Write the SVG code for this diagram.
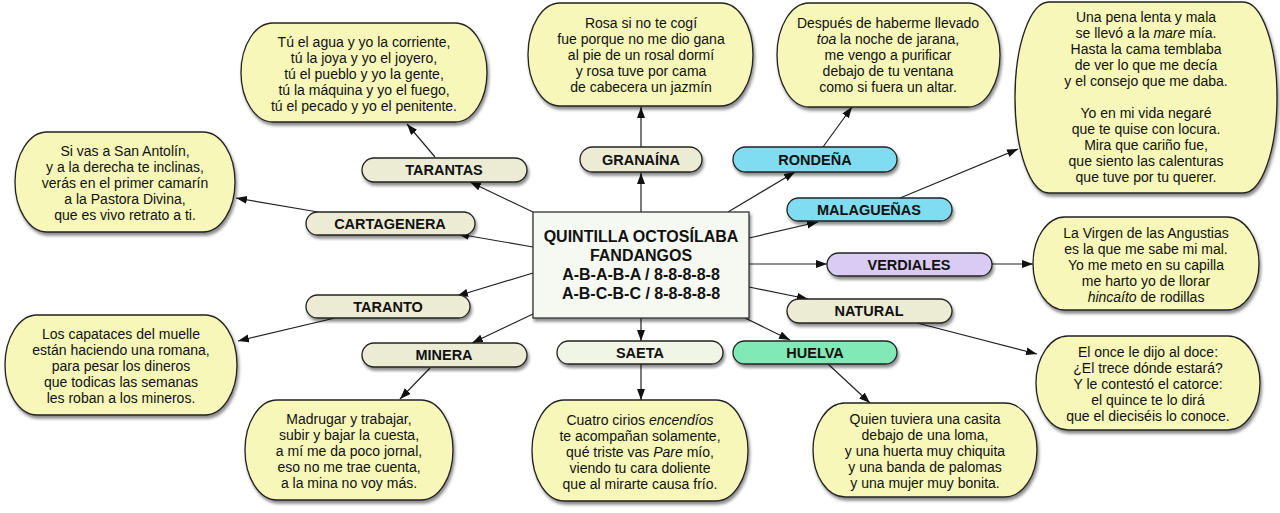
<svg xmlns="http://www.w3.org/2000/svg" width="1280" height="513" viewBox="0 0 1280 513">
<defs>
<filter id="sh" x="-10%" y="-10%" width="125%" height="135%">
<feDropShadow dx="1.5" dy="3" stdDeviation="1.8" flood-color="#000" flood-opacity="0.45"/>
</filter>
<marker id="ar" markerUnits="userSpaceOnUse" markerWidth="12" markerHeight="9" refX="11" refY="4" orient="auto">
<path d="M0,0 L11,4 L0,8 z" fill="#111"/>
</marker>
<style>
.verse{fill:#f7f7b9;stroke:#222;stroke-width:1.3;filter:url(#sh)}
.pill{stroke:#222;stroke-width:1.3;filter:url(#sh)}
.beige{fill:#ececd5}
.cream{fill:#f1f5e5}
.cyan{fill:#7fdcf1}
.lav{fill:#dacbf4}
.green{fill:#80e9b5}
.center{fill:#f5f9f2;stroke:#333;stroke-width:1.3;filter:url(#sh)}
.vt{font-family:"Liberation Sans",Arial,sans-serif;font-size:14px;fill:#111;text-anchor:middle}
.lt{font-family:"Liberation Sans",Arial,sans-serif;font-size:14.5px;font-weight:bold;fill:#111;text-anchor:middle}
.ct{font-family:"Liberation Sans",Arial,sans-serif;font-size:16px;font-weight:bold;fill:#111;text-anchor:middle}
.i{font-style:italic}
.cn line{stroke:#222;stroke-width:1.2;marker-end:url(#ar)}
</style>
</defs>
<rect width="1280" height="513" fill="#fff"/>

<g id="connectors" class="cn">
<line x1="533" y1="212" x2="470" y2="182"/>
<line x1="533" y1="247" x2="458" y2="234"/>
<line x1="533" y1="273" x2="457" y2="296"/>
<line x1="533" y1="314" x2="472" y2="343"/>
<line x1="641" y1="212" x2="641" y2="173"/>
<line x1="728" y1="212" x2="795" y2="172"/>
<line x1="749" y1="238" x2="818" y2="222"/>
<line x1="749" y1="264" x2="827" y2="264"/>
<line x1="749" y1="287" x2="808" y2="299"/>
<line x1="641" y1="318" x2="641" y2="341"/>
<line x1="745" y1="318" x2="790" y2="340"/>
<line x1="435" y1="157" x2="407" y2="124"/>
<line x1="318" y1="212" x2="236" y2="198"/>
<line x1="641" y1="147" x2="641" y2="107"/>
<line x1="823" y1="147" x2="852" y2="107"/>
<line x1="900" y1="198" x2="1018" y2="149"/>
<line x1="992" y1="264" x2="1033" y2="264"/>
<line x1="917" y1="323" x2="1037" y2="354"/>
<line x1="335" y1="318" x2="238" y2="341"/>
<line x1="430" y1="368" x2="400" y2="399"/>
<line x1="641" y1="364" x2="641" y2="400"/>
<line x1="828" y1="364" x2="870" y2="403"/>
</g>

<g id="center">
<rect class="center" x="533" y="212" width="216" height="106"/>
<text class="ct" x="641" y="242">QUINTILLA OCTOSÍLABA</text>
<text class="ct" x="641" y="261">FANDANGOS</text>
<text class="ct" x="641" y="280">A-B-A-B-A / 8-8-8-8-8</text>
<text class="ct" x="641" y="299">A-B-C-B-C / 8-8-8-8-8</text>
</g>

<g id="tarantas">
<rect class="pill beige" x="362" y="158" width="165" height="24" rx="12"/>
<text class="lt" x="444" y="175">TARANTAS</text>
</g>
<g id="cartagenera">
<rect class="pill beige" x="306" y="212" width="169" height="23" rx="11.5"/>
<text class="lt" x="390" y="229">CARTAGENERA</text>
</g>
<g id="taranto">
<rect class="pill beige" x="306" y="295" width="164" height="23" rx="11.5"/>
<text class="lt" x="388" y="312">TARANTO</text>
</g>
<g id="minera">
<rect class="pill beige" x="362" y="343" width="165" height="24" rx="12"/>
<text class="lt" x="444" y="360">MINERA</text>
</g>
<g id="granaina">
<rect class="pill beige" x="580" y="147" width="122" height="25" rx="12.5"/>
<text class="lt" x="641" y="165">GRANAÍNA</text>
</g>
<g id="rondena">
<rect class="pill cyan" x="733" y="147" width="164" height="25" rx="12.5"/>
<text class="lt" x="815" y="165">RONDEÑA</text>
</g>
<g id="malaguenas">
<rect class="pill cyan" x="787" y="198" width="165" height="23" rx="11.5"/>
<text class="lt" x="869" y="215">MALAGUEÑAS</text>
</g>
<g id="verdiales">
<rect class="pill lav" x="827" y="253" width="165" height="23" rx="11.5"/>
<text class="lt" x="909" y="270">VERDIALES</text>
</g>
<g id="natural">
<rect class="pill beige" x="787" y="299" width="165" height="24" rx="12"/>
<text class="lt" x="869" y="316">NATURAL</text>
</g>
<g id="saeta">
<rect class="pill cream" x="557" y="341" width="166" height="23" rx="11.5"/>
<text class="lt" x="640" y="358">SAETA</text>
</g>
<g id="huelva">
<rect class="pill green" x="733" y="341" width="164" height="23" rx="11.5"/>
<text class="lt" x="815" y="358">HUELVA</text>
</g>

<g id="verse-tarantas">
<rect class="verse" x="241" y="23" width="246" height="99" rx="32" ry="49.5"/>
<text class="vt" x="364" y="47">Tú el agua y yo la corriente,</text>
<text class="vt" x="364" y="63">tú la joya y yo el joyero,</text>
<text class="vt" x="364" y="79">tú el pueblo y yo la gente,</text>
<text class="vt" x="364" y="95">tú la máquina y yo el fuego,</text>
<text class="vt" x="364" y="111">tú el pecado y yo el penitente.</text>
</g>
<g id="verse-cartagenera">
<rect class="verse" x="15" y="132" width="220" height="100" rx="32" ry="50"/>
<text class="vt" x="125" y="156">Si vas a San Antolín,</text>
<text class="vt" x="125" y="172">y a la derecha te inclinas,</text>
<text class="vt" x="125" y="188">verás en el primer camarín</text>
<text class="vt" x="125" y="204">a la Pastora Divina,</text>
<text class="vt" x="125" y="220">que es vivo retrato a ti.</text>
</g>
<g id="verse-granaina">
<rect class="verse" x="528" y="3" width="225" height="103" rx="32" ry="51.5"/>
<text class="vt" x="641" y="28">Rosa si no te cogí</text>
<text class="vt" x="641" y="44">fue porque no me dio gana</text>
<text class="vt" x="641" y="60">al pie de un rosal dormí</text>
<text class="vt" x="641" y="76">y rosa tuve por cama</text>
<text class="vt" x="641" y="92">de cabecera un jazmín</text>
</g>
<g id="verse-rondena">
<rect class="verse" x="777" y="3" width="223" height="104" rx="32" ry="52"/>
<text class="vt" x="888" y="28">Después de haberme llevado</text>
<text class="vt" x="888" y="44"><tspan class="i">toa</tspan> la noche de jarana,</text>
<text class="vt" x="888" y="60">me vengo a purificar</text>
<text class="vt" x="888" y="76">debajo de tu ventana</text>
<text class="vt" x="888" y="92">como si fuera un altar.</text>
</g>
<g id="verse-malaguenas">
<rect class="verse" x="1015" y="2" width="262" height="191" rx="34" ry="95.5"/>
<text class="vt" x="1146" y="22">Una pena lenta y mala</text>
<text class="vt" x="1146" y="38">se llevó a la <tspan class="i">mare</tspan> mía.</text>
<text class="vt" x="1146" y="54">Hasta la cama temblaba</text>
<text class="vt" x="1146" y="70">de ver lo que me decía</text>
<text class="vt" x="1146" y="86">y el consejo que me daba.</text>
<text class="vt" x="1146" y="118">Yo en mi vida negaré</text>
<text class="vt" x="1146" y="134">que te quise con locura.</text>
<text class="vt" x="1146" y="150">Mira que cariño fue,</text>
<text class="vt" x="1146" y="166">que siento las calenturas</text>
<text class="vt" x="1146" y="182">que tuve por tu querer.</text>
</g>
<g id="verse-verdiales">
<rect class="verse" x="1033" y="217" width="226" height="93" rx="32" ry="46.5"/>
<text class="vt" x="1146" y="238">La Virgen de las Angustias</text>
<text class="vt" x="1146" y="254">es la que me sabe mi mal.</text>
<text class="vt" x="1146" y="270">Yo me meto en su capilla</text>
<text class="vt" x="1146" y="286">me harto yo de llorar</text>
<text class="vt" x="1146" y="302"><tspan class="i">hincaíto</tspan> de rodillas</text>
</g>
<g id="verse-natural">
<rect class="verse" x="1036" y="336" width="224" height="94" rx="32" ry="47"/>
<text class="vt" x="1148" y="357">El once le dijo al doce:</text>
<text class="vt" x="1148" y="373">¿El trece dónde estará?</text>
<text class="vt" x="1148" y="389">Y le contestó el catorce:</text>
<text class="vt" x="1148" y="405">el quince te lo dirá</text>
<text class="vt" x="1148" y="421">que el dieciséis lo conoce.</text>
</g>
<g id="verse-taranto">
<rect class="verse" x="5" y="315" width="232" height="100" rx="32" ry="50"/>
<text class="vt" x="121" y="339">Los capataces del muelle</text>
<text class="vt" x="121" y="355">están haciendo una romana,</text>
<text class="vt" x="121" y="371">para pesar los dineros</text>
<text class="vt" x="121" y="387">que todicas las semanas</text>
<text class="vt" x="121" y="403">les roban a los mineros.</text>
</g>
<g id="verse-minera">
<rect class="verse" x="245" y="400" width="208" height="100" rx="32" ry="50"/>
<text class="vt" x="349" y="424">Madrugar y trabajar,</text>
<text class="vt" x="349" y="440">subir y bajar la cuesta,</text>
<text class="vt" x="349" y="456">a mí me da poco jornal,</text>
<text class="vt" x="349" y="472">eso no me trae cuenta,</text>
<text class="vt" x="349" y="488">a la mina no voy más.</text>
</g>
<g id="verse-saeta">
<rect class="verse" x="532" y="400" width="216" height="101" rx="32" ry="50.5"/>
<text class="vt" x="640" y="425">Cuatro cirios <tspan class="i">encendíos</tspan></text>
<text class="vt" x="640" y="441">te acompañan solamente,</text>
<text class="vt" x="640" y="457">qué triste vas <tspan class="i">Pare</tspan> mío,</text>
<text class="vt" x="640" y="473">viendo tu cara doliente</text>
<text class="vt" x="640" y="489">que al mirarte causa frío.</text>
</g>
<g id="verse-huelva">
<rect class="verse" x="813" y="403" width="224" height="94" rx="32" ry="47"/>
<text class="vt" x="925" y="424">Quien tuviera una casita</text>
<text class="vt" x="925" y="440">debajo de una loma,</text>
<text class="vt" x="925" y="456">y una huerta muy chiquita</text>
<text class="vt" x="925" y="472">y una banda de palomas</text>
<text class="vt" x="925" y="488">y una mujer muy bonita.</text>
</g>
</svg>
